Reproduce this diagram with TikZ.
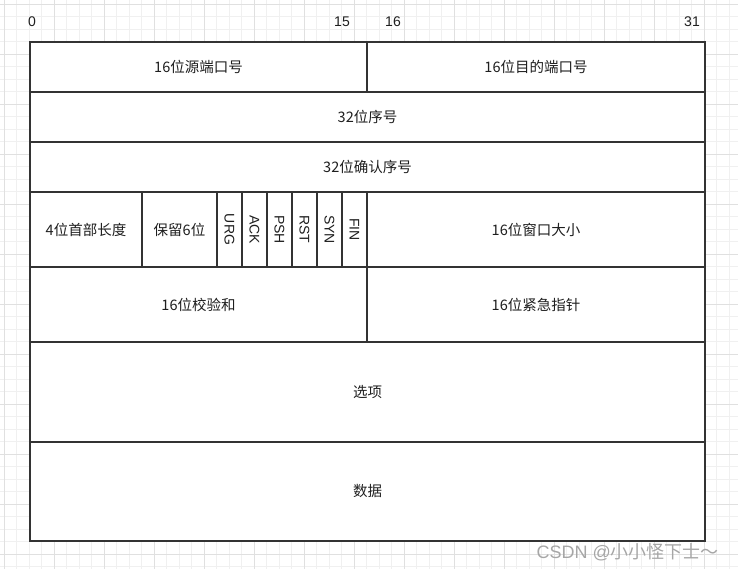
\documentclass[tikz,border=0pt]{standalone}
\usepackage{fontspec}
\setmainfont{Liberation Sans}
\newfontfamily\cjk{Noto Sans CJK SC}
\begin{document}
\begin{tikzpicture}[x=1pt,y=-1pt,
  cell/.style={draw=black!80,line width=1.5pt},
  lbl/.style={font=\fontsize{14.5}{16}\selectfont\cjk,text=black!88},
  vflag/.style={font=\fontsize{14}{16}\selectfont,text=black!88,rotate=-90},
  num/.style={font=\fontsize{14}{16}\selectfont,text=black!88}]
\useasboundingbox (0,0) rectangle (738,569);
\fill[white] (0,0) rectangle (738,569);
% grid
\foreach \x in {4.3,16.8,...,738} \draw[black!6,line width=0.8pt] (\x,0) -- (\x,569);
\foreach \y in {4.3,16.8,...,569} \draw[black!6,line width=0.8pt] (0,\y) -- (738,\y);
\foreach \x in {4.3,54.3,...,738} \draw[black!12,line width=0.8pt] (\x,0) -- (\x,569);
\foreach \y in {4.3,54.3,...,569} \draw[black!12,line width=0.8pt] (0,\y) -- (738,\y);
% white fill of table
\fill[white] (30,42) rectangle (705,541);
% bit numbers
\node[num] (b0) at (32,22) {0};
\node[num] (b15) at (342,22) {15};
\node[num] (b16) at (393,22) {16};
\node[num] (b31) at (692,22) {31};
% cells
\draw[cell] (30,42) rectangle (367,92);
\draw[cell] (367,42) rectangle (705,92);
\draw[cell] (30,92) rectangle (705,142);
\draw[cell] (30,142) rectangle (705,192);
\draw[cell] (30,192) rectangle (142,267);
\draw[cell] (142,192) rectangle (217,267);
\draw[cell] (367,192) rectangle (705,267);
\draw[cell] (30,267) rectangle (367,342);
\draw[cell] (367,267) rectangle (705,342);
\draw[cell] (30,342) rectangle (705,442);
\draw[cell] (30,442) rectangle (705,541);
\foreach \i in {0,...,5} \draw[cell] (217+25*\i,192) rectangle (242+25*\i,267);
% labels
\node[lbl] (src) at (198.5,67) {16位源端口号};
\node[lbl] (dst) at (536,67) {16位目的端口号};
\node[lbl] (seq) at (367.5,117) {32位序号};
\node[lbl] (ack) at (367.5,167) {32位确认序号};
\node[lbl] (hl) at (86,229.5) {4位首部长度};
\node[lbl] (rsv) at (179.5,229.5) {保留6位};
\foreach \n/\t [count=\i from 0] in {urg/URG,ackf/ACK,psh/PSH,rst/RST,syn/SYN,fin/FIN}
  \node[vflag] (\n) at (229.5+25*\i,229.5) {\t};
\node[lbl] (win) at (536,229.5) {16位窗口大小};
\node[lbl] (chk) at (198.5,304.5) {16位校验和};
\node[lbl] (urgp) at (536,304.5) {16位紧急指针};
\node[lbl] (opt) at (367.5,392) {选项};
\node[lbl] (data) at (367.5,491.5) {数据};
% watermark
\node[font=\fontsize{18}{20}\selectfont,text=black!35,anchor=west] (wm) at (533,552) {CSDN @{\cjk 小小怪下士～}};
\end{tikzpicture}
\end{document}
